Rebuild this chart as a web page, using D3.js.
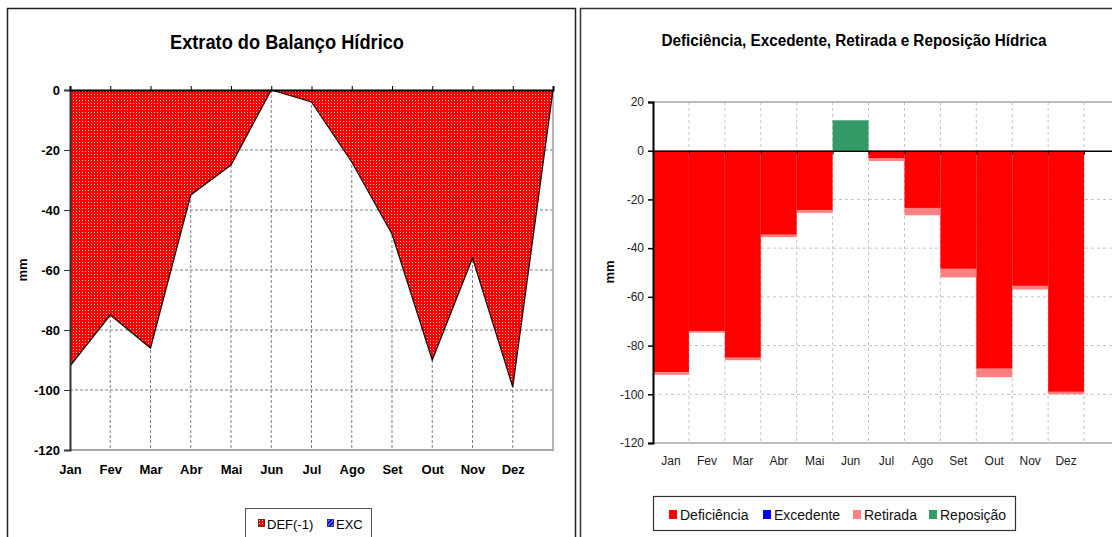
<!DOCTYPE html>
<html><head><meta charset="utf-8">
<script src="https://cdn.jsdelivr.net/npm/d3@7"></script>
<style>body{margin:0;background:#fff}svg{display:block;font-family:"Liberation Sans",Arial,sans-serif}</style>
</head><body>
<svg id="c" width="1112" height="537"></svg>
<script>
// ---- data ----
const months = ["Jan","Fev","Mar","Abr","Mai","Jun","Jul","Ago","Set","Out","Nov","Dez",""];
const defNeg = [-92,-75,-86,-35,-25,0,-4,-24,-48,-90,-56,-99,0];
const excLeft = [0,0,0,0,0,0,0,0,0,0,0,0,0];
const deficiencia = [-91,-74,-85,-34.5,-24.5,0,-3,-23.5,-48.5,-89.5,-55.5,-99,0];
const excedente = [0,0,0,0,0,0,0,0,0,0,0,0,0];
const retirada = [-1,-0.7,-1,-1,-1,0,-1.2,-3,-3.5,-3.5,-1.5,-1,0];
const reposicao = [0,0,0,0,0,12.5,0,0,0,0,0,0,0];
const yTicksLeft = [0,-20,-40,-60,-80,-100,-120];
const yTicksRight = [20,0,-20,-40,-60,-80,-100,-120];
const leftTitle = "Extrato do Balanço Hídrico";
const rightTitle = "Deficiência, Excedente, Retirada e Reposição Hídrica";
const leftLegend = ["DEF(-1)","EXC"];
const rightLegend = ["Deficiência","Excedente","Retirada","Reposição"];
const rightColors = ["#ff0000","#0000ff","#ff8080","#339966"];

const fmt = d => String(d);
const svg = d3.select("#c");
const defs = svg.append("defs");
const pd = defs.append("pattern").attr("id","dots").attr("width",3).attr("height",3).attr("patternUnits","userSpaceOnUse");
pd.append("rect").attr("width",3).attr("height",3).attr("fill","#ff0000");
pd.append("rect").attr("x",1).attr("y",1).attr("width",1).attr("height",1).attr("fill","#ffc8c8");
const ph = defs.append("pattern").attr("id","hatch").attr("width",3).attr("height",3).attr("patternUnits","userSpaceOnUse").attr("patternTransform","rotate(45)");
ph.append("rect").attr("width",3).attr("height",3).attr("fill","#0000ff");
ph.append("rect").attr("width",1).attr("height",3).attr("fill","#9999ff");

// panel borders
svg.append("rect").attr("x",7.5).attr("y",8.5).attr("width",568).attr("height",560).attr("fill","none").attr("stroke","#222").attr("stroke-width",1.5);
svg.append("rect").attr("x",580.5).attr("y",8.5).attr("width",600).attr("height",560).attr("fill","none").attr("stroke","#333").attr("stroke-width",1.5);

// ================= LEFT CHART =================
const xL = d3.scalePoint().domain(months.map((m,i)=>i)).range([70,553]);
const yL = d3.scaleLinear().domain([-120,0]).range([450,90]);

svg.append("text").attr("x",287).attr("y",49).attr("text-anchor","middle")
  .attr("font-size",20).attr("font-weight","bold").attr("textLength",234).attr("lengthAdjust","spacingAndGlyphs").text(leftTitle);

const gL = svg.append("g");
gL.selectAll(".vg").data(months.slice(1,12)).enter().append("line")
  .attr("x1",(d,i)=>xL(i+1)).attr("x2",(d,i)=>xL(i+1)).attr("y1",yL(0)).attr("y2",yL(-120))
  .attr("stroke","#808080").attr("stroke-dasharray","3,2");
gL.selectAll(".hg").data(yTicksLeft.filter(t=>t<0&&t>-120)).enter().append("line")
  .attr("x1",70).attr("x2",553).attr("y1",d=>yL(d)).attr("y2",d=>yL(d))
  .attr("stroke","#808080").attr("stroke-dasharray","3,2");
gL.append("line").attr("x1",553).attr("x2",553).attr("y1",90).attr("y2",451).attr("stroke","#b4b4b4").attr("stroke-width",2);
gL.append("line").attr("x1",70).attr("x2",554).attr("y1",450).attr("y2",450).attr("stroke","#a8a8a8").attr("stroke-width",2);
const area = d3.area().x((d,i)=>xL(i)).y0(yL(0)).y1(d=>yL(d));
const line = d3.line().x((d,i)=>xL(i)).y(d=>yL(d));
gL.append("path").datum(defNeg).attr("d",area).attr("fill","url(#dots)");
gL.append("path").datum(defNeg).attr("d",line).attr("fill","none").attr("stroke","#111").attr("stroke-width",1.3);
gL.append("path").datum(excLeft).attr("d",area).attr("fill","url(#hatch)");
const axL = gL.append("g").attr("transform","translate(70,0)")
  .call(d3.axisLeft(yL).tickValues(yTicksLeft).tickSize(6).tickPadding(4).tickFormat(fmt));
axL.select(".domain").attr("stroke","#333").attr("stroke-width",2);
axL.selectAll(".tick line").attr("stroke","#333");
axL.selectAll("text").attr("font-size",13).attr("font-weight","bold").attr("fill","#000").attr("font-family","Liberation Sans, Arial");
const axT = gL.append("g").attr("transform","translate(0,90)")
  .call(d3.axisTop(xL).tickSize(4).tickFormat(()=>""));
axT.select(".domain").attr("stroke","#000").attr("stroke-width",2);
axT.selectAll(".tick line").attr("stroke","#000");
const axB = gL.append("g").attr("transform","translate(0,450)")
  .call(d3.axisBottom(xL).tickSize(0).tickPadding(15).tickFormat(i=>months[i]));
axB.select(".domain").remove();
axB.selectAll("text").attr("font-size",13).attr("font-weight","bold").attr("fill","#000").attr("font-family","Liberation Sans, Arial");
svg.append("text").attr("transform","translate(27,270) rotate(-90)").attr("text-anchor","middle")
  .attr("font-size",13).attr("font-weight","bold").text("mm");
svg.append("rect").attr("x",245.5).attr("y",508.5).attr("width",126).attr("height",40).attr("fill","#fff").attr("stroke","#555");
const legL = [{t:leftLegend[0],f:"url(#dots)",x:258},{t:leftLegend[1],f:"url(#hatch)",x:327}];
legL.forEach(l=>{
  svg.append("rect").attr("x",l.x+0.5).attr("y",519.5).attr("width",6).attr("height",7).attr("fill",l.f).attr("stroke","#222").attr("stroke-width",0.8);
  svg.append("text").attr("x",l.x+9).attr("y",529).attr("font-size",13).text(l.t);
});

// ================= RIGHT CHART =================
const xR = d3.scaleBand().domain(months.map((m,i)=>i)).range([653,1120]).padding(0);
const yR = d3.scaleLinear().domain([-120,20]).range([443,102]);

svg.append("text").attr("x",854).attr("y",46).attr("text-anchor","middle")
  .attr("font-size",16).attr("font-weight","bold").attr("textLength",385).attr("lengthAdjust","spacingAndGlyphs").text(rightTitle);

const gR = svg.append("g");
const bounds = months.map((m,i)=>xR(i)).slice(1).concat([xR(12)+xR.bandwidth()]);
gR.selectAll(".vg").data(bounds).enter().append("line")
  .attr("x1",d=>d).attr("x2",d=>d).attr("y1",yR(20)).attr("y2",yR(-120))
  .attr("stroke","#c4c4c4").attr("stroke-dasharray","3,3");
gR.selectAll(".hg").data(yTicksRight.filter(t=>t<0&&t>-120)).enter().append("line")
  .attr("x1",653).attr("x2",1120).attr("y1",d=>yR(d)).attr("y2",d=>yR(d))
  .attr("stroke","#c4c4c4").attr("stroke-dasharray","3,3");
gR.append("line").attr("x1",653).attr("x2",1120).attr("y1",yR(20)).attr("y2",yR(20)).attr("stroke","#a8a8a8").attr("stroke-width",1.5);
gR.append("line").attr("x1",653).attr("x2",1120).attr("y1",yR(-120)).attr("y2",yR(-120)).attr("stroke","#a8a8a8").attr("stroke-width",1.5);

const idx = months.map((m,i)=>i);
gR.selectAll(".def").data(idx).enter().append("rect")
  .attr("x",i=>xR(i)).attr("width",xR.bandwidth())
  .attr("y",yR(0)).attr("height",i=>yR(deficiencia[i])-yR(0)).attr("fill",rightColors[0]);
gR.selectAll(".ret").data(idx).enter().append("rect")
  .attr("x",i=>xR(i)).attr("width",xR.bandwidth())
  .attr("y",i=>yR(deficiencia[i])).attr("height",i=>yR(deficiencia[i]+retirada[i])-yR(deficiencia[i])).attr("fill",rightColors[2]);
gR.selectAll(".exc").data(idx).enter().append("rect")
  .attr("x",i=>xR(i)).attr("width",xR.bandwidth())
  .attr("y",i=>yR(excedente[i])).attr("height",i=>yR(0)-yR(excedente[i])).attr("fill",rightColors[1]);
gR.selectAll(".rep").data(idx).enter().append("rect")
  .attr("x",i=>xR(i)).attr("width",xR.bandwidth())
  .attr("y",i=>yR(reposicao[i])).attr("height",i=>yR(0)-yR(reposicao[i])).attr("fill",rightColors[3]);

const zx = d3.scaleLinear().domain([0,13]).range([653,1120]);
const axZ = gR.append("g").attr("transform",`translate(0,${yR(0)})`)
  .call(d3.axisBottom(zx).tickValues(d3.range(0,13)).tickSize(4).tickFormat(""));
axZ.select(".domain").attr("stroke","#000").attr("stroke-width",1.5);
axZ.selectAll(".tick line").attr("stroke","#000");
const axR = gR.append("g").attr("transform","translate(653,0)")
  .call(d3.axisLeft(yR).tickValues(yTicksRight).tickSize(5).tickPadding(4).tickFormat(fmt));
axR.select(".domain").attr("stroke","#000").attr("stroke-width",2);
axR.selectAll(".tick line").attr("stroke","#000").attr("stroke-width",1.5);
axR.selectAll("text").attr("font-size",12).attr("fill","#222").attr("font-family","Liberation Sans, Arial");
const axRB = gR.append("g").attr("transform","translate(0,443)")
  .call(d3.axisBottom(xR).tickSize(0).tickPadding(13).tickFormat(i=>months[i]));
axRB.select(".domain").remove();
axRB.selectAll("text").attr("font-size",12).attr("fill","#222").attr("font-family","Liberation Sans, Arial");
svg.append("text").attr("transform","translate(614,272) rotate(-90)").attr("text-anchor","middle")
  .attr("font-size",13).attr("font-weight","bold").text("mm");

svg.append("rect").attr("x",653.5).attr("y",496.5).attr("width",362).attr("height",34).attr("fill","#fff").attr("stroke","#333").attr("stroke-width",1.2);
const legX = [669,763,853,929];
rightLegend.forEach((t,i)=>{
  svg.append("rect").attr("x",legX[i]).attr("y",510).attr("width",8).attr("height",9).attr("fill",rightColors[i]);
  svg.append("text").attr("x",legX[i]+11).attr("y",519.5).attr("font-size",14).attr("fill","#111").text(t);
});
</script>
</body></html>
